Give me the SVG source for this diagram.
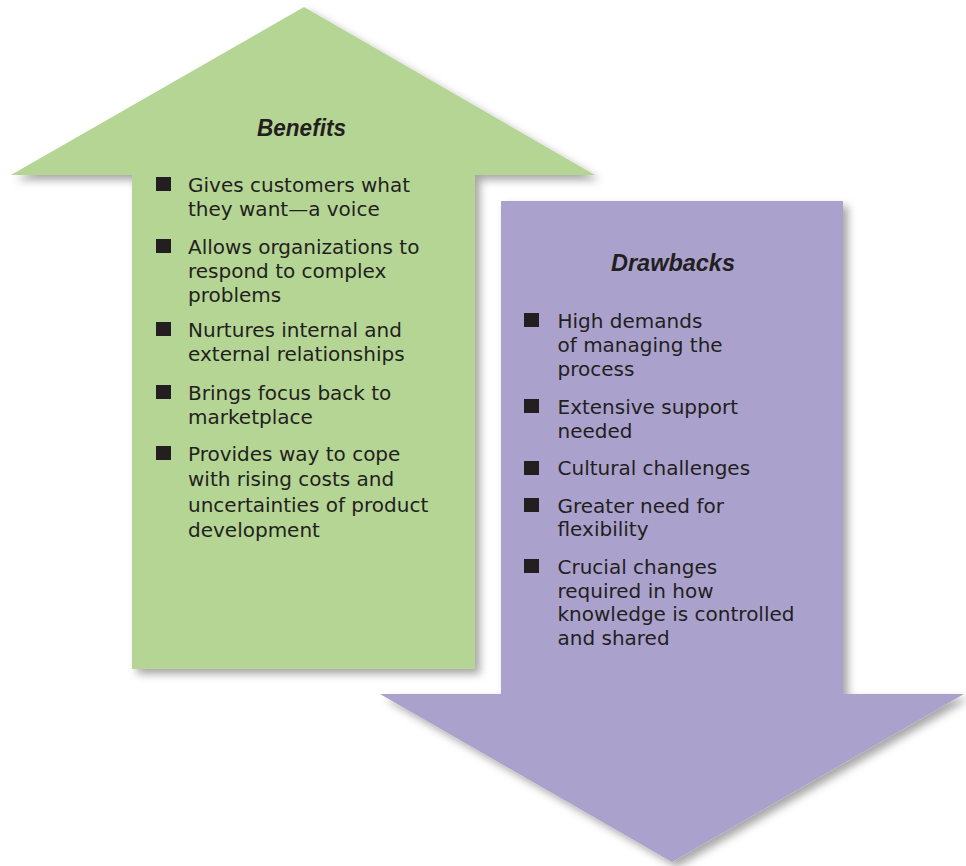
<svg xmlns="http://www.w3.org/2000/svg" width="966" height="866" viewBox="0 0 966 866">
<defs>
<filter id="sh" x="-10%" y="-10%" width="125%" height="125%">
<feDropShadow dx="5" dy="5" stdDeviation="4" flood-color="#000" flood-opacity="0.35"/>
</filter>
<style>
.t{font-family:"DejaVu Sans","Liberation Sans",sans-serif;font-size:20px;fill:#231f20}
.h{font-family:"Liberation Sans",Arial,sans-serif;font-size:24px;font-weight:bold;font-style:italic;fill:#231f20}
.b{fill:#231f20}
</style>
</defs>
<rect width="966" height="866" fill="#ffffff"/>
<g id="benefits">
<polygon points="304,7 595,175 475,175 475,669 132,669 132,175 11,175" fill="#b5d595" filter="url(#sh)"/>
<text class="h" x="301.5" y="136" text-anchor="middle" textLength="89" lengthAdjust="spacingAndGlyphs">Benefits</text>
<rect class="b" x="156" y="177" width="15" height="14"/>
<text class="t" x="188" y="191.5">Gives customers what</text>
<text class="t" x="188" y="215.5">they want—a voice</text>
<rect class="b" x="156" y="239" width="15" height="14"/>
<text class="t" x="188" y="253.5">Allows organizations to</text>
<text class="t" x="188" y="277.5">respond to complex</text>
<text class="t" x="188" y="301.5">problems</text>
<rect class="b" x="156" y="322" width="15" height="14"/>
<text class="t" x="188" y="336.5">Nurtures internal and</text>
<text class="t" x="188" y="360.5">external relationships</text>
<rect class="b" x="156" y="385" width="15" height="14"/>
<text class="t" x="188" y="399.5">Brings focus back to</text>
<text class="t" x="188" y="423.5">marketplace</text>
<rect class="b" x="156" y="446" width="15" height="14"/>
<text class="t" x="188" y="460.5">Provides way to cope</text>
<text class="t" x="188" y="486">with rising costs and</text>
<text class="t" x="188" y="511.5">uncertainties of product</text>
<text class="t" x="188" y="536.5">development</text>
</g>
<g id="drawbacks">
<polygon points="501,201 843,201 843,694 964,694 672,862 380,694 501,694" fill="#aaa2cd" filter="url(#sh)"/>
<text class="h" x="673" y="271" text-anchor="middle" textLength="124" lengthAdjust="spacingAndGlyphs">Drawbacks</text>
<rect class="b" x="524" y="313" width="15" height="14"/>
<text class="t" x="557.5" y="327.5">High demands</text>
<text class="t" x="557.5" y="351.5">of managing the</text>
<text class="t" x="557.5" y="375.5">process</text>
<rect class="b" x="524" y="399" width="15" height="14"/>
<text class="t" x="557.5" y="413.5">Extensive support</text>
<text class="t" x="557.5" y="437.5">needed</text>
<rect class="b" x="524" y="461" width="15" height="14"/>
<text class="t" x="557.5" y="475">Cultural challenges</text>
<rect class="b" x="524" y="498" width="15" height="14"/>
<text class="t" x="557.5" y="512.5">Greater need for</text>
<text class="t" x="557.5" y="536">flexibility</text>
<rect class="b" x="524" y="559" width="15" height="14"/>
<text class="t" x="557.5" y="573.5">Crucial changes</text>
<text class="t" x="557.5" y="597.5">required in how</text>
<text class="t" x="557.5" y="621">knowledge is controlled</text>
<text class="t" x="557.5" y="645">and shared</text>
</g>
</svg>
